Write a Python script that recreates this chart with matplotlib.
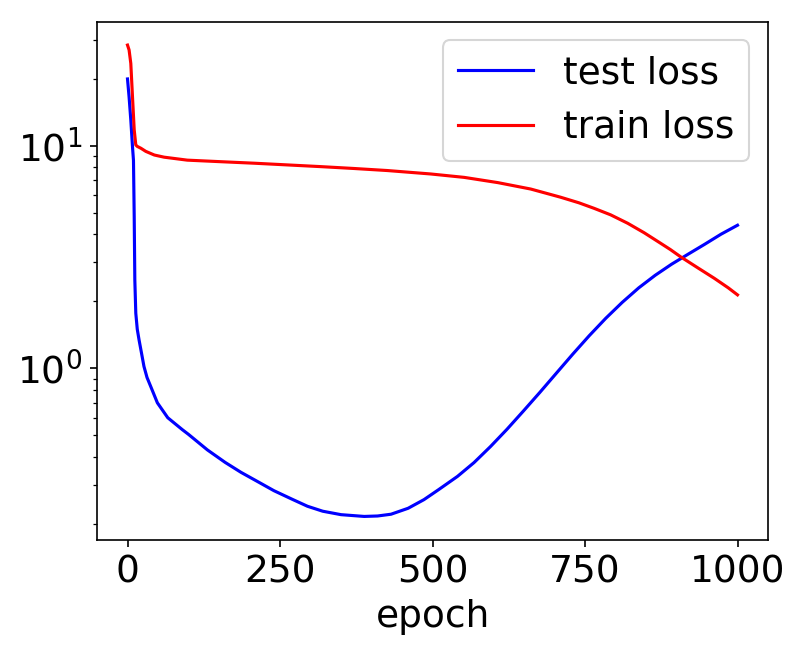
import matplotlib
matplotlib.use("Agg")
import matplotlib.pyplot as plt

test_epochs = [0, 2.6, 5.4, 8.2, 9.8, 11, 12, 13.6, 16, 19, 23, 27, 32, 38, 49, 66, 90,
               100, 131, 160, 186, 215, 240, 270, 295, 320, 350, 388, 410, 432, 460,
               486, 510, 541, 568, 595, 622, 649, 676, 703, 730, 757, 784, 811, 838,
               865, 892, 919, 946, 973, 1000]
test_loss = [20, 16.6, 13.1, 9.9, 8.6, 4.8, 2.5, 1.77, 1.5, 1.34, 1.17, 1.02, 0.91, 0.83,
             0.70, 0.60, 0.53, 0.505, 0.43, 0.378, 0.341, 0.308, 0.282, 0.258, 0.240,
             0.228, 0.220, 0.216, 0.217, 0.221, 0.235, 0.257, 0.285, 0.327, 0.377,
             0.445, 0.532, 0.643, 0.780, 0.951, 1.159, 1.403, 1.679, 1.98, 2.30, 2.62,
             2.94, 3.26, 3.61, 4.01, 4.40]

train_epochs = [0, 2.6, 5.4, 8.2, 11, 13.6, 16, 22, 30, 44, 60, 98, 150, 208, 260, 317,
                370, 426, 497, 552, 607, 661, 710, 740, 765, 792, 820, 847, 874, 890,
                907, 935, 962, 985, 1000]
train_loss = [28.4, 27, 23.5, 16.6, 11.8, 10.1, 9.95, 9.76, 9.45, 9.1, 8.9, 8.63, 8.5,
              8.36, 8.22, 8.07, 7.92, 7.75, 7.48, 7.22, 6.84, 6.40, 5.88, 5.55, 5.24,
              4.90, 4.49, 4.07, 3.65, 3.42, 3.17, 2.83, 2.54, 2.30, 2.14]

plt.rcParams['font.size'] = 18

fig = plt.figure(figsize=(801 / 150, 652 / 150), dpi=150)
ax = fig.add_axes([97 / 801, 1 - 540 / 652, (768 - 97) / 801, (540 - 21.5) / 652])
ax.plot(test_epochs, test_loss, color='blue', label='test loss')
ax.plot(train_epochs, train_loss, color='red', label='train loss')
ax.set_yscale('log')
ax.set_xlabel('epoch')
ax.set_xticks([0, 250, 500, 750, 1000])
ax.legend(loc='upper right')
fig.savefig('out.png', dpi=150)
